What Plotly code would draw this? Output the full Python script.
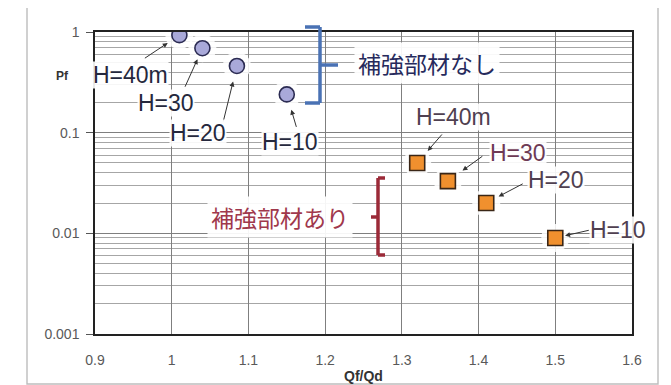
import plotly.graph_objects as go
import math

# ---- data ----
h_labels = ["H=40m", "H=30", "H=20", "H=10"]
qf_qd_none = [1.01, 1.04, 1.085, 1.15]      # 補強部材なし
pf_none = [0.93, 0.69, 0.46, 0.24]
qf_qd_with = [1.32, 1.36, 1.41, 1.50]       # 補強部材あり
pf_with = [0.050, 0.033, 0.020, 0.009]
x_ticks = [0.9, 1.0, 1.1, 1.2, 1.3, 1.4, 1.5, 1.6]
x_tick_text = ["0.9", "1", "1.1", "1.2", "1.3", "1.4", "1.5", "1.6"]
y_ticks = [0.001, 0.01, 0.1, 1]
y_tick_text = ["0.001", "0.01", "0.1", "1"]
group_labels = ["補強部材なし", "補強部材あり"]

# ---- layout geometry (window pixels) ----
W, H = 671, 385
OFF = 8  # page body margin
ML, MR, MT, MB = 95, 39, 32, 51
PW, PH = W - ML - MR, H - MT - MB

def px(x):
    return (x - ML) / PW

def py(y):
    return (H - MB - y) / PH

FONT = "Liberation Sans, Arial, Noto Sans CJK JP, sans-serif"
JP_FONT = "Noto Sans CJK JP, Liberation Sans, sans-serif"

fig = go.Figure()

# white halos behind markers
fig.add_trace(go.Scatter(x=qf_qd_none + qf_qd_with, y=pf_none + pf_with, mode="markers",
                         marker=dict(size=28, color="rgba(255,255,255,0.85)", line=dict(width=0)),
                         hoverinfo="skip", showlegend=False))

fig.add_trace(go.Scatter(x=qf_qd_none, y=pf_none, mode="markers", name=group_labels[0],
                         marker=dict(symbol="circle", size=15, color="#a9a9d9",
                                     line=dict(color="#2b2b52", width=1.6)),
                         showlegend=False))
fig.add_trace(go.Scatter(x=qf_qd_with, y=pf_with, mode="markers", name=group_labels[1],
                         marker=dict(symbol="square", size=15, color="#f0902e",
                                     line=dict(color="#3a2616", width=1.6)),
                         showlegend=False))

annotations = []

# arrows: (tail offset from marker in px, standoff)
left_arrows = [(-36, 24, 14), (-18, 40, 12), (-14, 57, 16), (10, 34, 16)]
right_arrows = [(26, -30, 16), (36, -26, 18), (38, -20, 14), (35, -8, 10)]
for xs, ys, arrs in ((qf_qd_none, pf_none, left_arrows), (qf_qd_with, pf_with, right_arrows)):
    for xv, yv, (ax, ay, so) in zip(xs, ys, arrs):
        annotations.append(dict(x=xv, y=math.log10(yv), xref="x", yref="y", text="",
                                showarrow=True, ax=ax, ay=ay, axref="pixel", ayref="pixel",
                                arrowhead=2, arrowsize=1, arrowwidth=1, arrowcolor="#333333",
                                standoff=so))

# text labels (pixel centers)
left_pos = [(130, 75), (166, 103), (198, 133), (290, 142)]
right_pos = [(453, 117), (518, 153), (556, 180), (618, 230)]
right_colors = ["#4f4050", "#6e3a55", "#4f4050", "#4f4050"]
for lab, (cx, cy) in zip(h_labels, left_pos):
    annotations.append(dict(x=px(cx), y=py(cy), xref="paper", yref="paper", text=lab,
                            showarrow=False, font=dict(family=FONT, size=23, color="#25283d"),
                            bgcolor="rgba(255,255,255,0.9)", borderpad=0,
                            xanchor="center", yanchor="middle"))
for lab, (cx, cy), col in zip(h_labels, right_pos, right_colors):
    annotations.append(dict(x=px(cx), y=py(cy), xref="paper", yref="paper", text=lab,
                            showarrow=False, font=dict(family=FONT, size=23, color=col),
                            bgcolor="rgba(255,255,255,0.9)", borderpad=0,
                            xanchor="center", yanchor="middle"))

annotations.append(dict(x=px(427), y=py(63), xref="paper", yref="paper", text=group_labels[0],
                        showarrow=False, font=dict(family=JP_FONT, size=23, color="#262a5c"),
                        bgcolor="rgba(255,255,255,0.92)", borderpad=3,
                        xanchor="center", yanchor="middle"))
annotations.append(dict(x=px(280), y=py(217), xref="paper", yref="paper", text=group_labels[1],
                        showarrow=False, font=dict(family=JP_FONT, size=23, color="#a0384c"),
                        bgcolor="rgba(255,255,255,0.92)", borderpad=3,
                        xanchor="center", yanchor="middle"))

# axis titles
annotations.append(dict(x=px(62), y=py(76), xref="paper", yref="paper", text="<b>Pf</b>",
                        showarrow=False, font=dict(family="Liberation Sans, sans-serif", size=12, color="#333333"),
                        xanchor="center", yanchor="middle"))
annotations.append(dict(x=px(363), y=py(376), xref="paper", yref="paper", text="<b>Qf/Qd</b>",
                        showarrow=False, font=dict(family="Liberation Sans, sans-serif", size=14, color="#333333"),
                        xanchor="center", yanchor="middle"))

shapes = []
# outer chart border
shapes.append(dict(type="rect", xref="paper", yref="paper",
                   x0=px(27), x1=px(658), y0=py(384), y1=py(7),
                   line=dict(color="#bdbdbd", width=1.4), fillcolor="rgba(0,0,0,0)", layer="below"))

# blue bracket ]
BLUE = "#4a72b4"
for (x0, y0, x1, y1) in [(305, 27, 320, 27), (320, 27, 320, 103), (305, 103, 320, 103), (320, 65, 338, 65)]:
    shapes.append(dict(type="line", xref="paper", yref="paper", x0=px(x0), y0=py(y0), x1=px(x1), y1=py(y1),
                       line=dict(color=BLUE, width=3.5)))
# red bracket [
RED = "#9b2a38"
for (x0, y0, x1, y1) in [(378, 178, 385, 178), (378, 178, 378, 255), (378, 255, 385, 255), (371, 217, 378, 217)]:
    shapes.append(dict(type="line", xref="paper", yref="paper", x0=px(x0), y0=py(y0), x1=px(x1), y1=py(y1),
                       line=dict(color=RED, width=3.5)))

TICKFONT = dict(family="Liberation Sans, sans-serif", size=14, color="#595959")

fig.update_layout(
    width=W - OFF, height=H - OFF,
    margin=dict(l=ML - OFF, r=MR, t=MT - OFF, b=MB),
    paper_bgcolor="white", plot_bgcolor="white",
    showlegend=False,
    annotations=annotations,
    shapes=shapes,
    xaxis=dict(range=[0.9, 1.6], tickvals=x_ticks, ticktext=x_tick_text,
               showgrid=True, gridcolor="#7f7f7f", gridwidth=1,
               showline=True, linecolor="#222222", linewidth=1.5, mirror=True,
               ticks="", tickfont=TICKFONT, zeroline=False, ticklabelstandoff=12),
    yaxis=dict(type="log", range=[-3, 0], tickvals=y_ticks, ticktext=y_tick_text,
               showgrid=True, gridcolor="#7f7f7f", gridwidth=1,
               minor=dict(showgrid=True, gridcolor="#a6a6a6", gridwidth=1,
                          tickvals=[m * 10 ** e for e in (-3, -2, -1) for m in range(2, 10)]),
               showline=True, linecolor="#222222", linewidth=1.5, mirror=True,
               ticks="outside", ticklen=7, tickcolor="#555555", tickfont=TICKFONT, zeroline=False,
               ticklabelstandoff=4),
)

fig.write_html("out.html")
